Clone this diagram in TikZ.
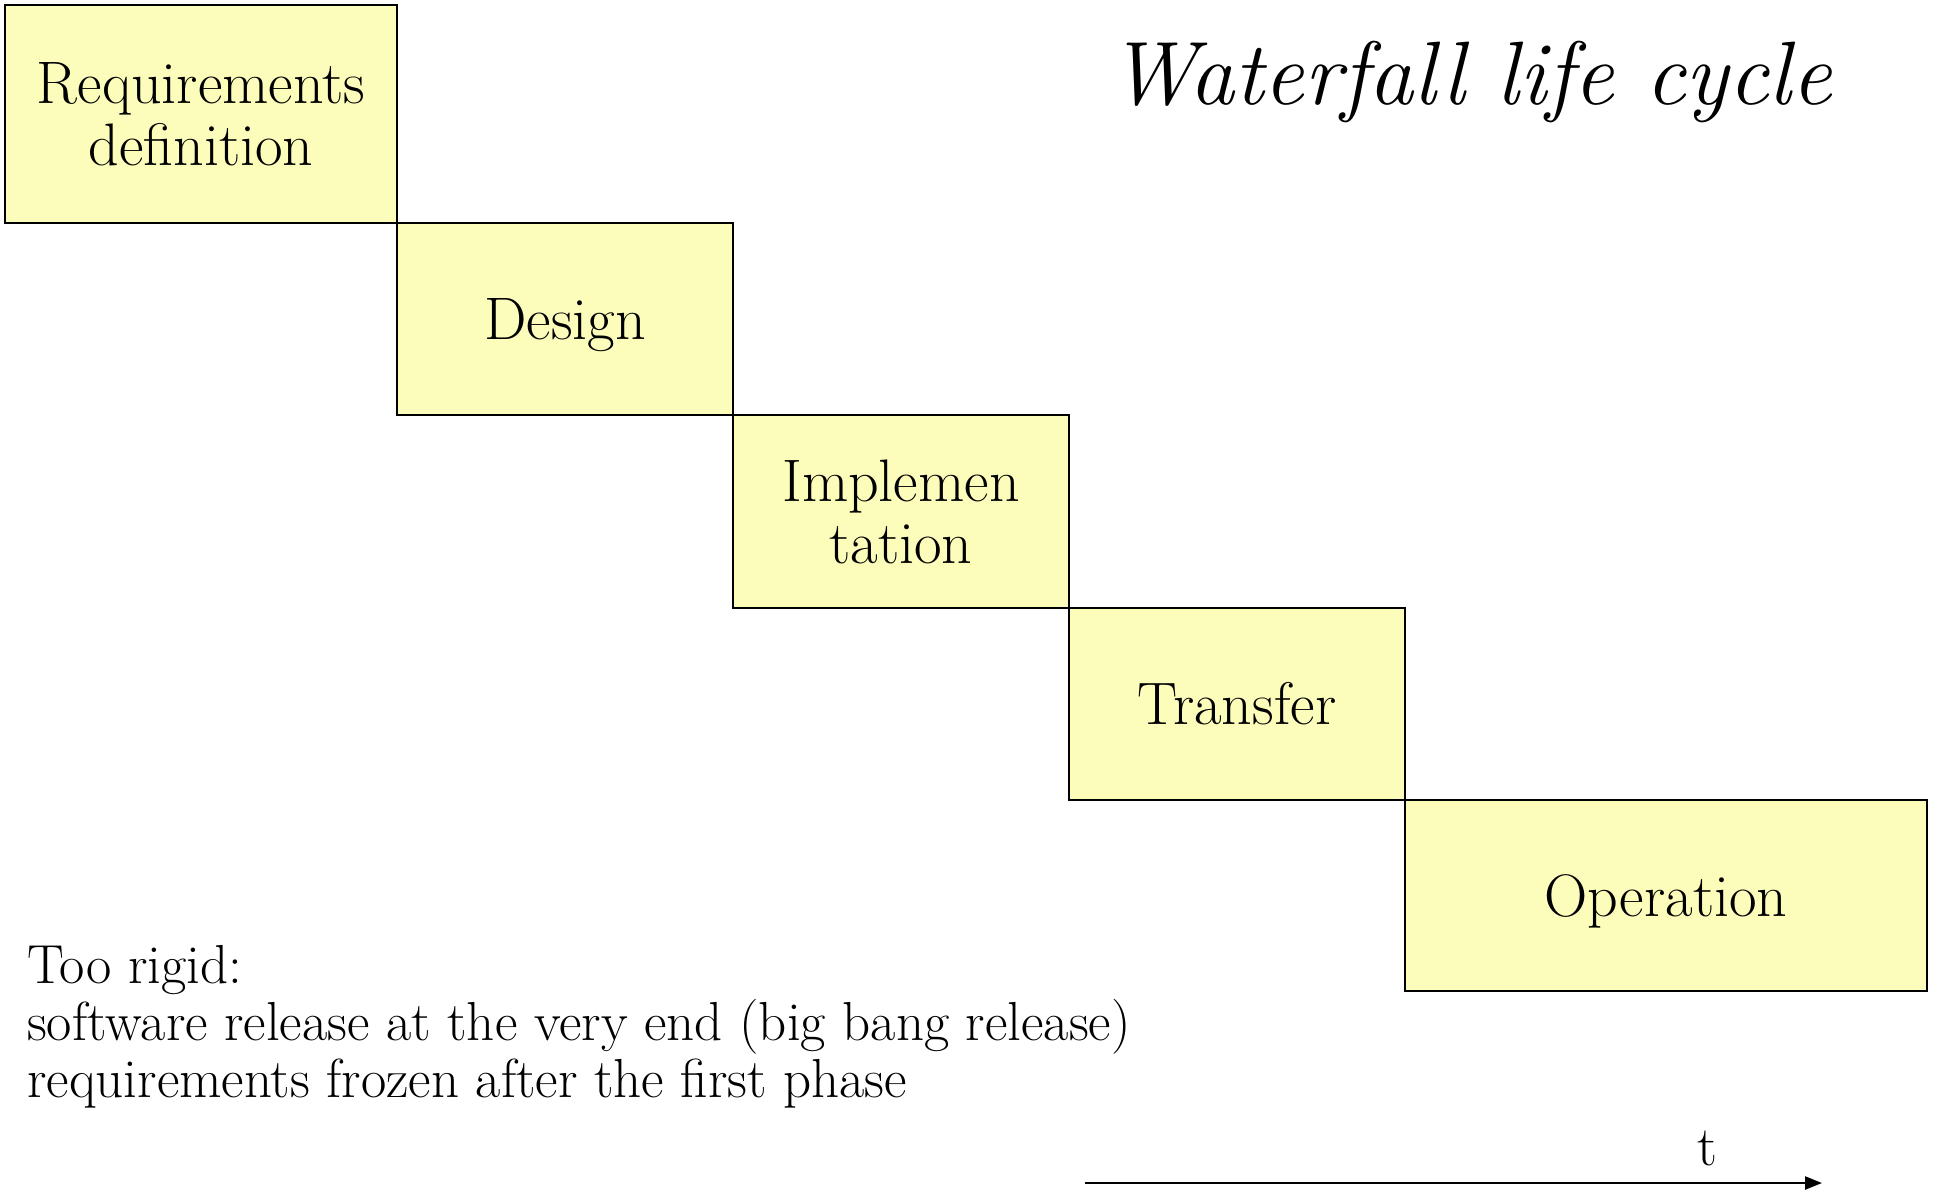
\documentclass[tikz,border=0pt]{standalone}
\usetikzlibrary{arrows.meta}
\definecolor{phasefill}{HTML}{FDFDBB}
\newcommand{\lowered}[1]{\raisebox{-6pt}[\height][\depth]{#1}}
\tikzset{
  phase/.style={draw=black, line width=2.4pt, fill=phasefill, inner sep=0pt,
    outer sep=0pt, anchor=north west, align=center,
    font=\fontsize{60}{62}\selectfont},
  timeline/.style={line width=2.4pt, -{Triangle[length=17pt,width=13pt]}},
}
\begin{document}
\begin{tikzpicture}[x=1pt,y=-1pt]
\useasboundingbox (0,0) rectangle (1933,1196);

% title
\node[anchor=base, inner sep=0pt, font=\fontsize{90}{100}\selectfont\itshape]
  (title) at (1470,105) {Waterfall life cycle};

% the five phases, stepping down to the right
\node[phase, minimum width=392pt, minimum height=218pt] (req) at (5,5)
  {Requirements\\definition};
\node[phase, minimum width=336pt, minimum height=192pt] (des) at (req.south east)
  {\lowered{Design}};
\node[phase, minimum width=336pt, minimum height=193pt] (imp) at (des.south east)
  {Implemen\\tation};
\node[phase, minimum width=336pt, minimum height=192pt] (tra) at (imp.south east)
  {Transfer};
\node[phase, minimum width=522pt, minimum height=191pt] (ope) at (tra.south east)
  {\lowered{Operation}};

% remarks
\node[anchor=north west, inner sep=0pt, align=left,
      font=\fontsize{55}{57}\selectfont] (note) at (27,945)
  {Too rigid:\\
   software release at the very end (big bang release)\\
   requirements frozen after the first phase};

% time axis
\coordinate (tstart) at (1085,1183);
\coordinate (tend) at (1822,1183);
\draw[timeline] (tstart) -- (tend);
\node[anchor=base, inner sep=0pt, font=\fontsize{56}{60}\selectfont]
  (tlabel) at (1707,1165) {t};
\end{tikzpicture}
\end{document}
